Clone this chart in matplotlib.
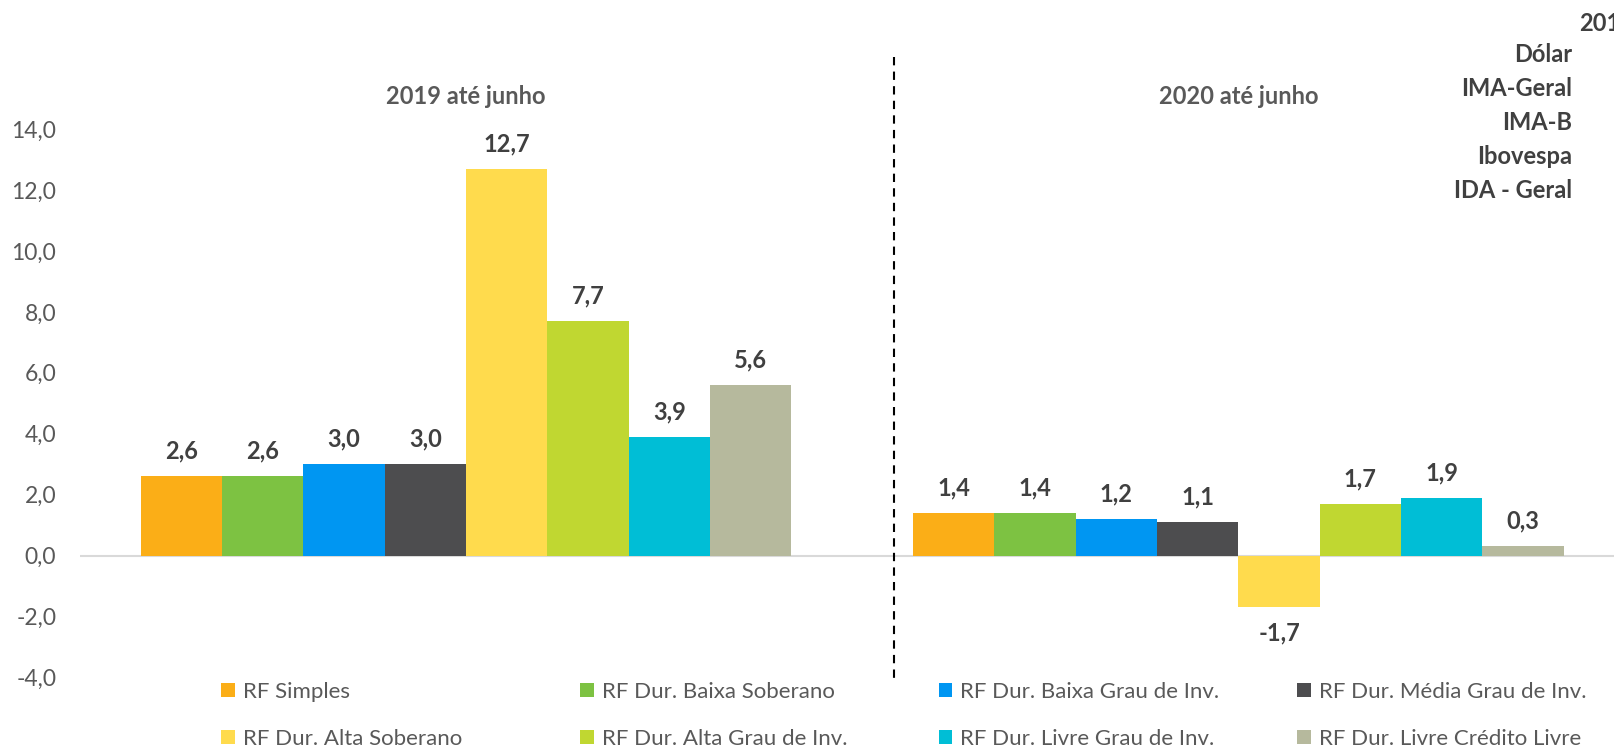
import matplotlib
matplotlib.use("Agg")
import matplotlib.pyplot as plt
from matplotlib.patches import Patch
from matplotlib.lines import Line2D
from matplotlib.ticker import FuncFormatter
import matplotlib.transforms as mtransforms
import numpy as np

plt.rcParams['font.family'] = ['Lato', 'DejaVu Sans']

# ---- data ----
categories = ["2019 até junho", "2020 até junho"]
series = ["RF Simples", "RF Dur. Baixa Soberano", "RF Dur. Baixa Grau de Inv.",
          "RF Dur. Média Grau de Inv.", "RF Dur. Alta Soberano",
          "RF Dur. Alta Grau de Inv.", "RF Dur. Livre Grau de Inv.",
          "RF Dur. Livre Crédito Livre"]
values_2019 = [2.6, 2.6, 3.0, 3.0, 12.7, 7.7, 3.9, 5.6]
values_2020 = [1.4, 1.4, 1.2, 1.1, -1.7, 1.7, 1.9, 0.3]
colors = ["#FBAE17", "#7DC242", "#0096F2", "#4D4D4F",
          "#FFDB4D", "#C0D731", "#00BED6", "#B6B99D"]
side_labels = ["Dólar", "IMA-Geral", "IMA-B", "Ibovespa", "IDA - Geral"]
side_title = "2019"
y_ticks = [-4, -2, 0, 2, 4, 6, 8, 10, 12, 14]

W, H = 1614, 746
fig = plt.figure(figsize=(W / 100, H / 100), dpi=100)
ax = fig.add_axes([79.8 / W, (H - 677.3) / H, 1544.8 / W, (677.3 - 129.2) / H])

vals = np.array([values_2019, values_2020])  # shape (2, 8)
n = len(series)
x = np.arange(len(categories))
bw = 1.0 / (n + 1.5)
for i, name in enumerate(series):
    xs = x - (n / 2) * bw + (i + 0.5) * bw
    ax.bar(xs, vals[:, i], width=bw, color=colors[i], linewidth=0, zorder=2)
    for xi, v in zip(xs, vals[:, i]):
        off = 18 if v >= 0 else -18.5
        ax.annotate(f"{v:.1f}".replace('.', ','), (xi, v), xytext=(0, off),
                    textcoords='offset points', ha='center', va='center',
                    fontsize=17, fontweight='bold', color='#404040')

ax.set_xlim(-0.5, len(categories) - 0.5)
ax.set_ylim(-4, 14)
ax.set_yticks(y_ticks)
ax.yaxis.set_major_formatter(FuncFormatter(lambda v, p: f"{v:.1f}".replace('.', ',')))
ax.tick_params(axis='y', length=0, pad=17, labelsize=16.5, labelcolor='#595959')
ax.set_xticks([])
for s in ax.spines.values():
    s.set_visible(False)
ax.axhline(0, color='#D9D9D9', lw=1.5, zorder=1)

# group labels above plot
trans = mtransforms.blended_transform_factory(ax.transData, fig.transFigure)
for i, c in enumerate(categories):
    ax.text(x[i], (H - 96) / H, c, transform=trans, ha='center', va='center',
            fontsize=17, fontweight='bold', color='#595959')

# dashed separator
fig.add_artist(Line2D([893.5 / W, 893.5 / W], [(H - 56.6) / H, (H - 679.4) / H],
                      transform=fig.transFigure, color='black', lw=1.5,
                      ls=(0, (4, 3))))

# top-right texts
fig.text(1579 / W, (H - 23.3) / H, side_title, ha='left', va='center',
         fontsize=17, fontweight='bold', color='#404040')
for k, t in enumerate(side_labels):
    fig.text(1572 / W, (H - (55 + 34 * k)) / H, t, ha='right', va='center',
             fontsize=17, fontweight='bold', color='#404040')

# legend: 4 columns x 2 rows, row-major order
col_x = [221.5, 580, 938.5, 1297]
for c in range(4):
    idxs = [c, c + 4]
    handles = [Patch(facecolor=colors[j], edgecolor='none') for j in idxs]
    labels = [series[j] for j in idxs]
    fig.legend(handles, labels, loc='upper left',
               bbox_to_anchor=(col_x[c] / W, (H - 682) / H),
               frameon=False, borderpad=0, borderaxespad=0,
               handlelength=0.62, handleheight=0.62, handletextpad=0.35,
               labelspacing=1.2, fontsize=16, labelcolor='#595959')

fig.savefig("out.png", dpi=100)
